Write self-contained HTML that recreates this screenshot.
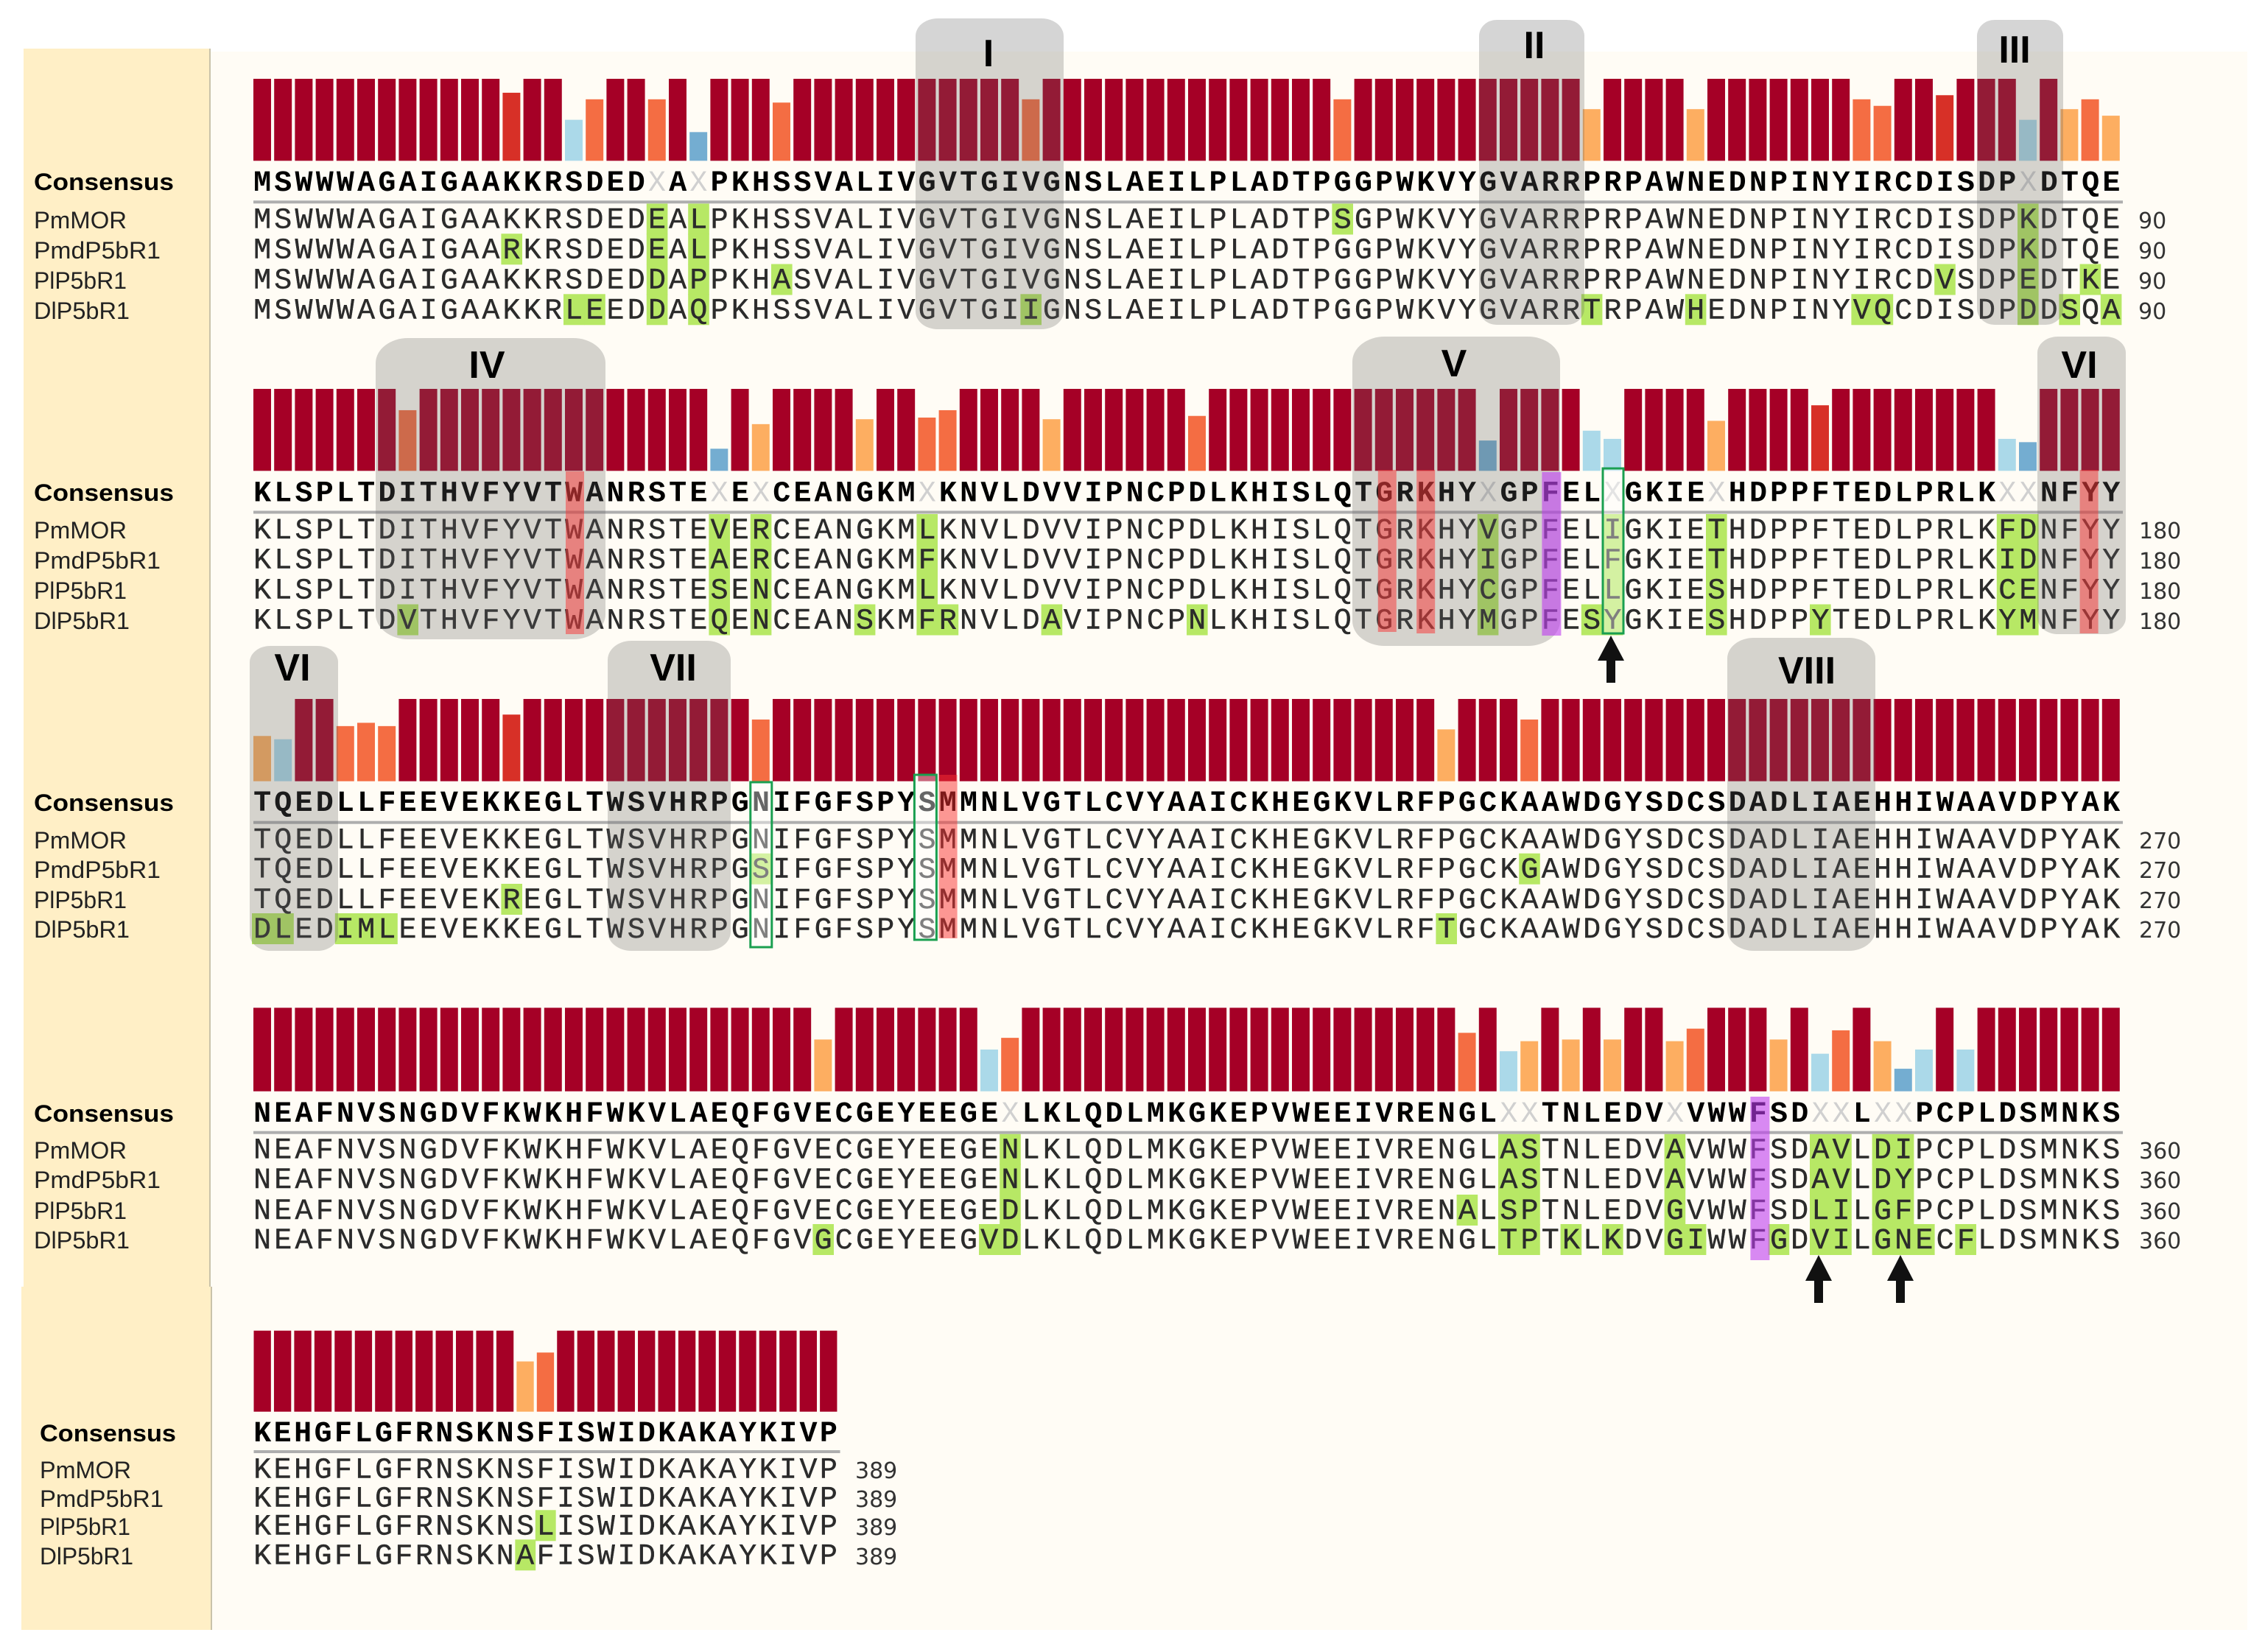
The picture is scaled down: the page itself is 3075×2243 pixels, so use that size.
<!DOCTYPE html>
<html lang="en">
<head>
<meta charset="utf-8">
<title>Sequence alignment with conservation bars</title>
<style>
html,body{margin:0;padding:0;background:#fff;width:3075px;height:2243px;overflow:hidden}
svg{display:block}
.lbl{font-family:"Liberation Sans",sans-serif;font-size:32px;fill:#222}
.lblc{font-family:"Liberation Sans",sans-serif;font-size:32px;font-weight:bold;fill:#000}
.num{font-family:"DejaVu Sans",sans-serif;font-size:30px;fill:#333}
.roman{font-family:"Liberation Sans",sans-serif;font-size:52px;font-weight:bold;fill:#000;text-anchor:middle}
.motif{fill:rgba(100,100,100,.27)}
.arrow{fill:#111}
</style>
</head>
<body>
<svg id="figure" xmlns="http://www.w3.org/2000/svg" width="3075" height="2243" viewBox="0 0 3075 2243">
  <rect x="0" y="0" width="3075" height="2243" fill="#ffffff"/>
  <rect x="286" y="70" width="2765" height="2143" fill="#fffcf5"/>
  <rect x="32" y="66" width="252" height="1681" fill="#ffefc6"/>
  <rect x="29" y="1747" width="257" height="466" fill="#ffefc6"/>
  <rect x="284" y="66" width="2" height="1681" fill="#c9c2aa"/>
  <rect x="286" y="1747" width="2" height="466" fill="#c9c2aa"/>

  <g id="bars-layer"></g>
  <g id="highlight-layer"></g>
  <g id="text-layer"></g>
  <g id="rule-layer"></g>

  <g>
    <rect class="motif" x="1243" y="25" width="201" height="422" rx="30" ry="24"/>
    <rect class="motif" x="2008" y="27" width="143" height="414" rx="24" ry="22"/>
    <rect class="motif" x="2684" y="27" width="117" height="414" rx="24" ry="22"/>
    <rect class="motif" x="510" y="459" width="312" height="409" rx="44" ry="34"/>
    <rect class="motif" x="1836" y="457" width="282" height="420" rx="44" ry="34"/>
    <rect class="motif" x="2766" y="457" width="120" height="404" rx="28" ry="22"/>
    <rect class="motif" x="339" y="877" width="120" height="414" rx="28" ry="22"/>
    <rect class="motif" x="825" y="870" width="167" height="421" rx="32" ry="26"/>
    <rect class="motif" x="2345" y="866" width="201" height="425" rx="36" ry="28"/>
    <text class="roman" x="1342" y="90">I</text>
    <text class="roman" x="2083" y="79">II</text>
    <text class="roman" x="2735" y="85">III</text>
    <text class="roman" x="661" y="513">IV</text>
    <text class="roman" x="1974" y="511">V</text>
    <text class="roman" x="2823" y="513">VI</text>
    <text class="roman" x="397" y="924">VI</text>
    <text class="roman" x="914" y="924">VII</text>
    <text class="roman" x="2453" y="928">VIII</text>
  </g>

  <g id="mark-layer"></g>

  <g>
    <polygon class="arrow" points="2187,863 2205,897 2193,897 2193,927 2181,927 2181,897 2169,897"/>
    <polygon class="arrow" points="2469,1704 2487,1739 2475,1739 2475,1769 2463,1769 2463,1739 2451,1739"/>
    <polygon class="arrow" points="2580,1704 2598,1739 2586,1739 2586,1769 2574,1769 2574,1739 2562,1739"/>
  </g>

  <g>
    <text class="lblc" x="46" y="258" textLength="190" lengthAdjust="spacingAndGlyphs">Consensus</text>
    <text class="lbl" x="46" y="310" textLength="126" lengthAdjust="spacingAndGlyphs">PmMOR</text>
    <text class="lbl" x="46" y="351" textLength="172" lengthAdjust="spacingAndGlyphs">PmdP5bR1</text>
    <text class="lbl" x="46" y="392" textLength="126" lengthAdjust="spacingAndGlyphs">PlP5bR1</text>
    <text class="lbl" x="46" y="433" textLength="130" lengthAdjust="spacingAndGlyphs">DlP5bR1</text>
    <text class="num" x="2903" y="310">90</text>
    <text class="num" x="2903" y="351">90</text>
    <text class="num" x="2903" y="392">90</text>
    <text class="num" x="2903" y="433">90</text>
  </g>
  <g>
    <text class="lblc" x="46" y="680" textLength="190" lengthAdjust="spacingAndGlyphs">Consensus</text>
    <text class="lbl" x="46" y="731" textLength="126" lengthAdjust="spacingAndGlyphs">PmMOR</text>
    <text class="lbl" x="46" y="772" textLength="172" lengthAdjust="spacingAndGlyphs">PmdP5bR1</text>
    <text class="lbl" x="46" y="813" textLength="126" lengthAdjust="spacingAndGlyphs">PlP5bR1</text>
    <text class="lbl" x="46" y="854" textLength="130" lengthAdjust="spacingAndGlyphs">DlP5bR1</text>
    <text class="num" x="2904" y="731">180</text>
    <text class="num" x="2904" y="772">180</text>
    <text class="num" x="2904" y="813">180</text>
    <text class="num" x="2904" y="854">180</text>
  </g>
  <g>
    <text class="lblc" x="46" y="1101" textLength="190" lengthAdjust="spacingAndGlyphs">Consensus</text>
    <text class="lbl" x="46" y="1152" textLength="126" lengthAdjust="spacingAndGlyphs">PmMOR</text>
    <text class="lbl" x="46" y="1192" textLength="172" lengthAdjust="spacingAndGlyphs">PmdP5bR1</text>
    <text class="lbl" x="46" y="1233" textLength="126" lengthAdjust="spacingAndGlyphs">PlP5bR1</text>
    <text class="lbl" x="46" y="1273" textLength="130" lengthAdjust="spacingAndGlyphs">DlP5bR1</text>
    <text class="num" x="2904" y="1152">270</text>
    <text class="num" x="2904" y="1192">270</text>
    <text class="num" x="2904" y="1233">270</text>
    <text class="num" x="2904" y="1273">270</text>
  </g>
  <g>
    <text class="lblc" x="46" y="1523" textLength="190" lengthAdjust="spacingAndGlyphs">Consensus</text>
    <text class="lbl" x="46" y="1573" textLength="126" lengthAdjust="spacingAndGlyphs">PmMOR</text>
    <text class="lbl" x="46" y="1613" textLength="172" lengthAdjust="spacingAndGlyphs">PmdP5bR1</text>
    <text class="lbl" x="46" y="1655" textLength="126" lengthAdjust="spacingAndGlyphs">PlP5bR1</text>
    <text class="lbl" x="46" y="1695" textLength="130" lengthAdjust="spacingAndGlyphs">DlP5bR1</text>
    <text class="num" x="2904" y="1573">360</text>
    <text class="num" x="2904" y="1613">360</text>
    <text class="num" x="2904" y="1655">360</text>
    <text class="num" x="2904" y="1695">360</text>
  </g>
  <g>
    <text class="lblc" x="54" y="1957" textLength="185" lengthAdjust="spacingAndGlyphs">Consensus</text>
    <text class="lbl" x="54" y="2007" textLength="124" lengthAdjust="spacingAndGlyphs">PmMOR</text>
    <text class="lbl" x="54" y="2046" textLength="168" lengthAdjust="spacingAndGlyphs">PmdP5bR1</text>
    <text class="lbl" x="54" y="2084" textLength="123" lengthAdjust="spacingAndGlyphs">PlP5bR1</text>
    <text class="lbl" x="54" y="2124" textLength="127" lengthAdjust="spacingAndGlyphs">DlP5bR1</text>
    <text class="num" x="1161" y="2007">389</text>
    <text class="num" x="1161" y="2046">389</text>
    <text class="num" x="1161" y="2084">389</text>
    <text class="num" x="1161" y="2124">389</text>
  </g>
</svg>

<script>
const block1Consensus = "MSWWWAGAIGAAKKRSDEDXAXPKHSSVALIVGVTGIVGNSLAEILPLADTPGGPWKVYGVARRPRPAWNEDNPINYIRCDISDPXDTQE";
const block1Sequences = [
  "MSWWWAGAIGAAKKRSDEDEALPKHSSVALIVGVTGIVGNSLAEILPLADTPSGPWKVYGVARRPRPAWNEDNPINYIRCDISDPKDTQE",
  "MSWWWAGAIGAARKRSDEDEALPKHSSVALIVGVTGIVGNSLAEILPLADTPGGPWKVYGVARRPRPAWNEDNPINYIRCDISDPKDTQE",
  "MSWWWAGAIGAAKKRSDEDDAPPKHASVALIVGVTGIVGNSLAEILPLADTPGGPWKVYGVARRPRPAWNEDNPINYIRCDVSDPEDTKE",
  "MSWWWAGAIGAAKKRLEEDDAQPKHSSVALIVGVTGIIGNSLAEILPLADTPGGPWKVYGVARRTRPAWHEDNPINYVQCDISDPDDSQA"
];
const block1Conservation = [
  100,100,100,100,100,100,100,100,100,100,
  100,100,83,100,100,50,75,100,100,75,
  100,35,100,100,100,71,100,100,100,100,
  100,100,100,100,100,100,100,75,100,100,
  100,100,100,100,100,100,100,100,100,100,
  100,100,75,100,100,100,100,100,100,100,
  100,100,100,100,63,100,100,100,100,63,
  100,100,100,100,100,100,100,75,67,100,
  100,80,100,100,100,50,100,63,75,55
];

const block2Consensus = "KLSPLTDITHVFYVTWANRSTEXEXCEANGKMXKNVLDVVIPNCPDLKHISLQTGRKHYXGPFELXGKIEXHDPPFTEDLPRLKXXNFYY";
const block2Sequences = [
  "KLSPLTDITHVFYVTWANRSTEVERCEANGKMLKNVLDVVIPNCPDLKHISLQTGRKHYVGPFELIGKIETHDPPFTEDLPRLKFDNFYY",
  "KLSPLTDITHVFYVTWANRSTEAERCEANGKMFKNVLDVVIPNCPDLKHISLQTGRKHYIGPFELFGKIETHDPPFTEDLPRLKIDNFYY",
  "KLSPLTDITHVFYVTWANRSTESENCEANGKMLKNVLDVVIPNCPDLKHISLQTGRKHYCGPFELLGKIESHDPPFTEDLPRLKCENFYY",
  "KLSPLTDVTHVFYVTWANRSTEQENCEANSKMFRNVLDAVIPNCPNLKHISLQTGRKHYMGPFESYGKIESHDPPYTEDLPRLKYMNFYY"
];
const block2Conservation = [
  100,100,100,100,100,100,100,74,100,100,
  100,100,100,100,100,100,100,100,100,100,
  100,100,27,100,57,100,100,100,100,63,
  100,100,65,74,100,100,100,100,63,100,
  100,100,100,100,100,67,100,100,100,100,
  100,100,100,100,100,100,100,100,100,37,
  100,100,100,100,49,39,100,100,100,100,
  61,100,100,100,100,80,100,100,100,100,
  100,100,100,100,39,35,100,100,100,100
];

const block3Consensus = "TQEDLLFEEVEKKEGLTWSVHRPGNIFGFSPYSMMNLVGTLCVYAAICKHEGKVLRFPGCKAAWDGYSDCSDADLIAEHHIWAAVDPYAK";
const block3Sequences = [
  "TQEDLLFEEVEKKEGLTWSVHRPGNIFGFSPYSMMNLVGTLCVYAAICKHEGKVLRFPGCKAAWDGYSDCSDADLIAEHHIWAAVDPYAK",
  "TQEDLLFEEVEKKEGLTWSVHRPGSIFGFSPYSMMNLVGTLCVYAAICKHEGKVLRFPGCKGAWDGYSDCSDADLIAEHHIWAAVDPYAK",
  "TQEDLLFEEVEKREGLTWSVHRPGNIFGFSPYSMMNLVGTLCVYAAICKHEGKVLRFPGCKAAWDGYSDCSDADLIAEHHIWAAVDPYAK",
  "DLEDIMLEEVEKKEGLTWSVHRPGNIFGFSPYSMMNLVGTLCVYAAICKHEGKVLRFTGCKAAWDGYSDCSDADLIAEHHIWAAVDPYAK"
];
const block3Conservation = [
  55,51,100,100,67,71,67,100,100,100,
  100,100,81,100,100,100,100,100,100,100,
  100,100,100,100,75,100,100,100,100,100,
  100,100,100,100,100,100,100,100,100,100,
  100,100,100,100,100,100,100,100,100,100,
  100,100,100,100,100,100,100,63,100,100,
  100,75,100,100,100,100,100,100,100,100,
  100,100,100,100,100,100,100,100,100,100,
  100,100,100,100,100,100,100,100,100,100
];

const block4Consensus = "NEAFNVSNGDVFKWKHFWKVLAEQFGVECGEYEEGEXLKLQDLMKGKEPVWEEIVRENGLXXTNLEDVXVWWFSDXXLXXPCPLDSMNKS";
const block4Sequences = [
  "NEAFNVSNGDVFKWKHFWKVLAEQFGVECGEYEEGENLKLQDLMKGKEPVWEEIVRENGLASTNLEDVAVWWFSDAVLDIPCPLDSMNKS",
  "NEAFNVSNGDVFKWKHFWKVLAEQFGVECGEYEEGENLKLQDLMKGKEPVWEEIVRENGLASTNLEDVAVWWFSDAVLDYPCPLDSMNKS",
  "NEAFNVSNGDVFKWKHFWKVLAEQFGVECGEYEEGEDLKLQDLMKGKEPVWEEIVRENALSPTNLEDVGVWWFSDLILGFPCPLDSMNKS",
  "NEAFNVSNGDVFKWKHFWKVLAEQFGVGCGEYEEGVDLKLQDLMKGKEPVWEEIVRENGLTPTKLKDVGIWWFGDVILGNECFLDSMNKS"
];
const block4Conservation = [
  100,100,100,100,100,100,100,100,100,100,
  100,100,100,100,100,100,100,100,100,100,
  100,100,100,100,100,100,100,62,100,100,
  100,100,100,100,100,50,64,100,100,100,
  100,100,100,100,100,100,100,100,100,100,
  100,100,100,100,100,100,100,100,70,100,
  48,60,100,62,100,62,100,100,60,75,
  100,100,100,62,100,45,73,100,60,27,
  50,100,50,100,100,100,100,100,100,100
];

const block5Consensus = "KEHGFLGFRNSKNSFISWIDKAKAYKIVP";
const block5Sequences = [
  "KEHGFLGFRNSKNSFISWIDKAKAYKIVP",
  "KEHGFLGFRNSKNSFISWIDKAKAYKIVP",
  "KEHGFLGFRNSKNSLISWIDKAKAYKIVP",
  "KEHGFLGFRNSKNAFISWIDKAKAYKIVP"
];
const block5Conservation = [
  100,100,100,100,100,100,100,100,100,100,
  100,100,100,62,73,100,100,100,100,100,
  100,100,100,100,100,100,100,100,100
];

const blockConsensus = [block1Consensus, block2Consensus, block3Consensus, block4Consensus, block5Consensus];
const blockSequences = [block1Sequences, block2Sequences, block3Sequences, block4Sequences, block5Sequences];
const blockConservation = [block1Conservation, block2Conservation, block3Conservation, block4Conservation, block5Conservation];

/* marked residues: block index, 1-based column */
const redColumns = [[1,16],[1,55],[1,57],[1,89],[2,34]];
const purpleColumns = [[1,63],[3,73]];
const frameColumns = [[1,66],[2,25],[2,33]];

/* layout, separate from the data */
const blockLayouts = [
  {x0:342, pitch:28.2, barTop:107,  barBottom:218.3,  consY:259,  ruleY:274.3,rowY:[309.5,350.3,391.5,432.3]},
  {x0:342, pitch:28.2, barTop:528,  barBottom:639.3,  consY:680.5,ruleY:695.5,rowY:[731,771.5,812.5,853.5]},
  {x0:342, pitch:28.2, barTop:949,  barBottom:1060.7, consY:1101, ruleY:1116.7,rowY:[1151.7,1191.7,1233,1273]},
  {x0:342, pitch:28.2, barTop:1368.3,barBottom:1481.7,consY:1523, ruleY:1537.7,rowY:[1572.7,1613,1655,1695]},
  {x0:342.5,pitch:27.45,barTop:1806.7,barBottom:1916.7,consY:1957,ruleY:1971, rowY:[2006.7,2045.7,2083.3,2123.3]}
];
const markSpans = {
  red: [[640,861,3],[638,858,6],[638,860,2],[638,860,0],[1052,1274,2]],
  purple: [[641,863,3],[1489,1711,4]],
  frame: [[636,860,1,28],[1062,1286,0,29],[1052,1276,-3,30]]
};
const MONO_ADVANCE = 24.0;

const NS = "http://www.w3.org/2000/svg";
const barsLayer = document.getElementById("bars-layer");
const highlightLayer = document.getElementById("highlight-layer");
const textLayer = document.getElementById("text-layer");
const ruleLayer = document.getElementById("rule-layer");
const markLayer = document.getElementById("mark-layer");

function xScale(layout, column) { return layout.x0 + (column - 1) * layout.pitch; }
function yScale(layout, value) { return layout.barBottom - (value / 100) * (layout.barBottom - layout.barTop); }
function barColor(value) {
  if (value >= 95) return "#a50026";
  if (value >= 78) return "#d73027";
  if (value >= 64) return "#f46d43";
  if (value >= 53) return "#fdae61";
  if (value >= 38) return "#abd9e9";
  return "#74add1";
}

blockLayouts.forEach(function (layout, b) {
  const consensus = blockConsensus[b];
  const n = consensus.length;
  const spacing = layout.pitch - MONO_ADVANCE;

  blockConservation[b].forEach(function (value, i) {
    const bar = document.createElementNS(NS, "rect");
    
    
    bar.setAttribute("x", xScale(layout, i + 1) + 2);
    bar.setAttribute("y", yScale(layout, value));
    bar.setAttribute("width", layout.pitch * 0.85);
    bar.setAttribute("height", yScale(layout, 0) - yScale(layout, value));
    bar.setAttribute("fill", barColor(value));
    barsLayer.appendChild(bar);
  });

  const consText = document.createElementNS(NS, "text");
  
  
  consText.setAttribute("x", layout.x0 + spacing / 2);
  consText.setAttribute("y", layout.consY);
  consText.setAttribute("letter-spacing", spacing);
  consText.setAttribute("font-family", '"Liberation Mono", monospace');
  consText.setAttribute("font-size", "40");
  consText.setAttribute("font-weight", "bold");
  consText.setAttribute("fill", "#000");
  consensus.match(/X+|[^X]+/g).forEach(function (run) {
    const span = document.createElementNS(NS, "tspan");
    span.textContent = run;
    if (run[0] === "X") {
      span.setAttribute("fill", "#d0d0d0");
      span.setAttribute("font-weight", "normal");
    }
    consText.appendChild(span);
  });
  textLayer.appendChild(consText);

  const rule = document.createElementNS(NS, "rect");
  
  
  rule.setAttribute("x", layout.x0 + 2);
  rule.setAttribute("y", layout.ruleY - 2);
  rule.setAttribute("width", n * layout.pitch);
  rule.setAttribute("height", 4);
  rule.setAttribute("fill", "#aeaeae");
  ruleLayer.appendChild(rule);

  blockSequences[b].forEach(function (sequence, r) {
    const baseY = layout.rowY[r];
    for (let i = 0; i < sequence.length; i++) {
      if (sequence[i] !== consensus[i]) {
        const cell = document.createElementNS(NS, "rect");
        
        
        cell.setAttribute("x", xScale(layout, i + 1));
        cell.setAttribute("y", baseY - 33);
        cell.setAttribute("width", layout.pitch + 0.4);
        cell.setAttribute("height", 42);
        cell.setAttribute("fill", "#b7e865");
        highlightLayer.appendChild(cell);
      }
    }
    const rowText = document.createElementNS(NS, "text");
    
    
    rowText.setAttribute("x", layout.x0 + spacing / 2);
    rowText.setAttribute("y", baseY);
    rowText.setAttribute("letter-spacing", spacing);
    rowText.setAttribute("font-family", '"Liberation Mono", monospace');
    rowText.setAttribute("font-size", "40");
    rowText.setAttribute("fill", "#2b2b2b");
    rowText.setAttribute("stroke", "#2b2b2b");
    rowText.setAttribute("stroke-width", "0.4");
    rowText.textContent = sequence;
    textLayer.appendChild(rowText);
  });
});

redColumns.forEach(function (entry, i) {
  const layout = blockLayouts[entry[0]];
  const mark = document.createElementNS(NS, "rect");
  
  
  mark.setAttribute("x", xScale(layout, entry[1]) + markSpans.red[i][2]);
  mark.setAttribute("y", markSpans.red[i][0]);
  mark.setAttribute("width", 25);
  mark.setAttribute("height", markSpans.red[i][1] - markSpans.red[i][0]);
  mark.setAttribute("fill", "rgba(250,50,50,.5)");
  markLayer.appendChild(mark);
});

purpleColumns.forEach(function (entry, i) {
  const layout = blockLayouts[entry[0]];
  const mark = document.createElementNS(NS, "rect");
  
  
  mark.setAttribute("x", xScale(layout, entry[1]) + markSpans.purple[i][2]);
  mark.setAttribute("y", markSpans.purple[i][0]);
  mark.setAttribute("width", 26);
  mark.setAttribute("height", markSpans.purple[i][1] - markSpans.purple[i][0]);
  mark.setAttribute("fill", "rgba(190,60,240,.6)");
  markLayer.appendChild(mark);
});

frameColumns.forEach(function (entry, i) {
  const layout = blockLayouts[entry[0]];
  const frame = document.createElementNS(NS, "rect");
  
  
  frame.setAttribute("x", xScale(layout, entry[1]) + markSpans.frame[i][2]);
  frame.setAttribute("y", markSpans.frame[i][0]);
  frame.setAttribute("width", markSpans.frame[i][3]);
  frame.setAttribute("height", markSpans.frame[i][1] - markSpans.frame[i][0]);
  frame.setAttribute("fill", "rgba(255,255,255,.4)");
  frame.setAttribute("stroke", "#1a9f50");
  frame.setAttribute("stroke-width", "3");
  markLayer.appendChild(frame);
});
</script>
</body>
</html>
